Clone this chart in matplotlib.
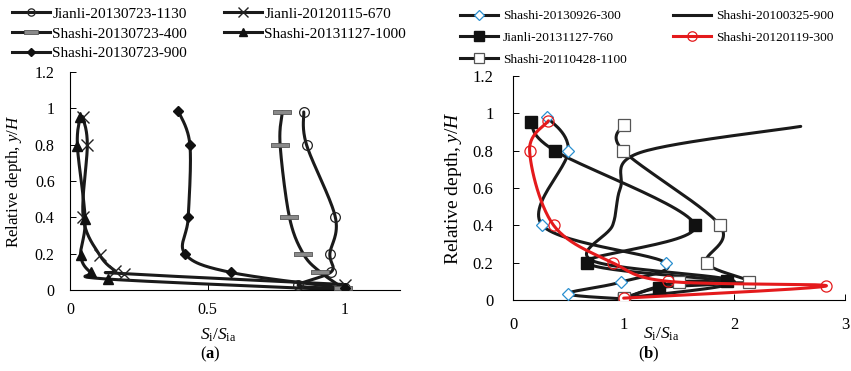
import numpy as np
import matplotlib
matplotlib.use('Agg')
import matplotlib.pyplot as plt
from matplotlib.ticker import FuncFormatter

plt.rcParams['font.family'] = ['Liberation Serif', 'DejaVu Serif']
plt.rcParams['mathtext.fontset'] = 'custom'
plt.rcParams['mathtext.rm'] = 'Liberation Serif'
plt.rcParams['mathtext.it'] = 'Liberation Serif:italic'
plt.rcParams['mathtext.bf'] = 'Liberation Serif:bold'

# ---- panel (a) data ----
a_names = ['Jianli-20130723-1130', 'Jianli-20120115-670', 'Shashi-20130723-400',
           'Shashi-20131127-1000', 'Shashi-20130723-900']
a_j1130_x = [0.85, 0.86, 0.965, 0.945, 0.95, 0.83, 1.0]
a_j1130_y = [0.98, 0.80, 0.40, 0.20, 0.10, 0.025, 0.01]
a_j670_x = [0.046, 0.063, 0.048, 0.109, 0.165, 0.195, 1.0]
a_j670_y = [0.955, 0.80, 0.40, 0.19, 0.105, 0.09, 0.03]
a_s400_x = [0.772, 0.764, 0.798, 0.848, 0.909, 0.994]
a_s400_y = [0.98, 0.80, 0.40, 0.20, 0.10, 0.01]
a_s1000_x = [0.036, 0.027, 0.055, 0.039, 0.075, 0.139, 1.0]
a_s1000_y = [0.95, 0.79, 0.39, 0.19, 0.097, 0.06, 0.0]
a_s900_x = [0.394, 0.436, 0.43, 0.418, 0.584, 1.0]
a_s900_y = [0.985, 0.80, 0.40, 0.20, 0.097, 0.01]

# ---- panel (b) data ----
b_names = ['Shashi-20130926-300', 'Shashi-20100325-900', 'Jianli-20131127-760',
           'Shashi-20120119-300', 'Shashi-20110428-1100']
b_s300_x = [0.31, 0.50, 0.265, 1.38, 0.98, 0.50, 1.0]
b_s300_y = [0.98, 0.80, 0.40, 0.20, 0.097, 0.034, 0.006]
b_s900_x = [2.6, 1.15, 0.97, 0.9, 0.72, 2.0, 1.0]
b_s900_y = [0.93, 0.79, 0.60, 0.40, 0.21, 0.10, 0.01]
b_j760_x = [0.16, 0.376, 1.645, 0.67, 1.93, 1.32, 1.0]
b_j760_y = [0.955, 0.80, 0.40, 0.20, 0.10, 0.066, 0.006]
b_s0119_x = [0.32, 0.15, 0.367, 0.90, 1.40, 2.83, 1.0]
b_s0119_y = [0.96, 0.80, 0.40, 0.20, 0.10, 0.075, 0.01]
b_s1100_x = [1.0, 0.995, 1.87, 1.75, 2.13, 1.5, 1.0]
b_s1100_y = [0.94, 0.80, 0.40, 0.20, 0.097, 0.097, 0.01]


def smooth(x, y, sx, sy, n=30):
    # bezier smoothing like a spreadsheet "smoothed line", done in pixel space
    p = np.column_stack([np.asarray(x) * sx, np.asarray(y) * sy])
    m = len(p)
    out = [p[0]]
    t = np.linspace(0, 1, n)[1:, None]
    for i in range(m - 1):
        p0 = p[i - 1] if i > 0 else p[i]
        p3 = p[i + 2] if i + 2 < m else p[i + 1]
        c1 = p[i] + (p[i + 1] - p0) / 6.0
        c2 = p[i + 1] - (p3 - p[i]) / 6.0
        seg = ((1 - t) ** 3) * p[i] + 3 * ((1 - t) ** 2) * t * c1 + 3 * (1 - t) * t ** 2 * c2 + t ** 3 * p[i + 1]
        out.extend(seg)
    out = np.array(out)
    return out[:, 0] / sx, out[:, 1] / sy


def series(ax, x, y, sx, sy, label, lc='#1a1a1a', z=2, **mk):
    xs, ys = smooth(x, y, sx, sy)
    ax.plot(xs, ys, color=lc, lw=2.2, zorder=z, solid_capstyle='round')
    if mk:
        ax.plot(x, y, ls='none', zorder=z + 1, **mk)
    # proxy for legend
    h, = ax.plot([], [], color=lc, lw=2.2, **mk)
    h.set_label(label)
    return h


bar = [(-1, -0.25), (1, -0.25), (1, 0.25), (-1, 0.25), (-1, -0.25)]

fig = plt.figure(figsize=(8.51, 3.71), dpi=100)
axa = fig.add_axes([70 / 851, 1 - 290 / 371, 330 / 851, 218 / 371])
axb = fig.add_axes([513 / 851, 1 - 300 / 371, 332 / 851, 224 / 371])

sxa, sya = 275.0, 182.0
ha = [
    series(axa, a_j1130_x, a_j1130_y, sxa, sya, a_names[0], marker='o', ms=7,
           mfc='none', mec='#222222', mew=0.9),
    series(axa, a_j670_x, a_j670_y, sxa, sya, a_names[1], marker='x', ms=9,
           mec='#222222', mew=1.0),
    series(axa, a_s400_x, a_s400_y, sxa, sya, a_names[2], marker=bar, ms=13,
           mfc='#8a8a8a', mec='#555555', mew=0.6),
    series(axa, a_s1000_x, a_s1000_y, sxa, sya, a_names[3], marker='^', ms=7,
           mfc='#111111', mec='#111111'),
    series(axa, a_s900_x, a_s900_y, sxa, sya, a_names[4], marker='D', ms=5,
           mfc='#111111', mec='#111111'),
]

sxb, syb = 110.5, 186.0
hb = [
    series(axb, b_s300_x, b_s300_y, sxb, syb, b_names[0], marker='D', ms=6,
           mfc='white', mec='#2a8fd0', mew=0.9),
    series(axb, b_s900_x, b_s900_y, sxb, syb, b_names[1]),
    series(axb, b_j760_x, b_j760_y, sxb, syb, b_names[2], marker='s', ms=8,
           mfc='#111111', mec='#111111'),
    series(axb, b_s0119_x, b_s0119_y, sxb, syb, b_names[3], lc='#e41a1c', z=5,
           marker='o', ms=8, mfc='none', mec='#e41a1c', mew=0.9),
    series(axb, b_s1100_x, b_s1100_y, sxb, syb, b_names[4], marker='s', ms=8,
           mfc='white', mec='#555555', mew=0.9),
]

fmt = FuncFormatter(lambda v, p: '%g' % round(v, 2))
for ax in (axa, axb):
    ax.set_ylim(0, 1.2)
    ax.set_yticks([0, 0.2, 0.4, 0.6, 0.8, 1.0, 1.2])
    ax.yaxis.set_major_formatter(fmt)
    ax.xaxis.set_major_formatter(fmt)
    ax.spines['top'].set_visible(False)
    ax.spines['right'].set_visible(False)
    ax.spines['left'].set_linewidth(0.8)
    ax.spines['bottom'].set_linewidth(0.8)
    ax.tick_params(direction='in', length=4, width=0.7)
    ax.set_xlabel(r'$S_{\rm i}/S_{\rm ia}$', fontsize=12.5)

axa.tick_params(axis='both', labelsize=11.5)
axa.tick_params(axis='x', pad=9)
axa.tick_params(axis='y', pad=11)
axb.tick_params(axis='both', labelsize=12)
axb.tick_params(axis='x', pad=12)
axb.tick_params(axis='y', pad=14)

axa.set_ylabel('Relative depth, $y/H$', fontsize=12.2)
axb.set_ylabel('Relative depth, $y/H$', fontsize=14)
axa.yaxis.set_label_coords(-46 / 330, 0.5)
axb.yaxis.set_label_coords(-49 / 332, 0.5)
axa.xaxis.set_label_coords(148 / 330, -(333 - 290) / 218 + 0.03)
axb.xaxis.set_label_coords(148 / 332, -(332 - 300) / 224 + 0.03)

axa.set_xlim(0, 1.2)
axa.set_xticks([0, 0.5, 1])
axb.set_xlim(0, 3)
axb.set_xticks([0, 1, 2, 3])

fig.text(210 / 851, 1 - 354 / 371, r'($\mathbf{a}$)', ha='center', va='center', fontsize=12)
fig.text(649 / 851, 1 - 354 / 371, r'($\mathbf{b}$)', ha='center', va='center', fontsize=12)

order = [0, 2, 4, 1, 3]
fig.legend([ha[i] for i in order], [a_names[i] for i in order], ncol=2,
           loc='upper left', bbox_to_anchor=(12 / 851, 1 - 7 / 371), frameon=False,
           fontsize=11, handlelength=2.5, handletextpad=0.15, columnspacing=2.4,
           labelspacing=0.4, borderpad=0, borderaxespad=0, markerscale=0.75)
fig.legend([hb[i] for i in order], [b_names[i] for i in order], ncol=2,
           loc='upper left', bbox_to_anchor=(460 / 851, 1 - 10 / 371), frameon=False,
           fontsize=9.6, handlelength=2.85, handletextpad=0.35, columnspacing=3.5,
           labelspacing=0.7, borderpad=0, borderaxespad=0, markerscale=0.85)

fig.savefig('out.png', dpi=100)
